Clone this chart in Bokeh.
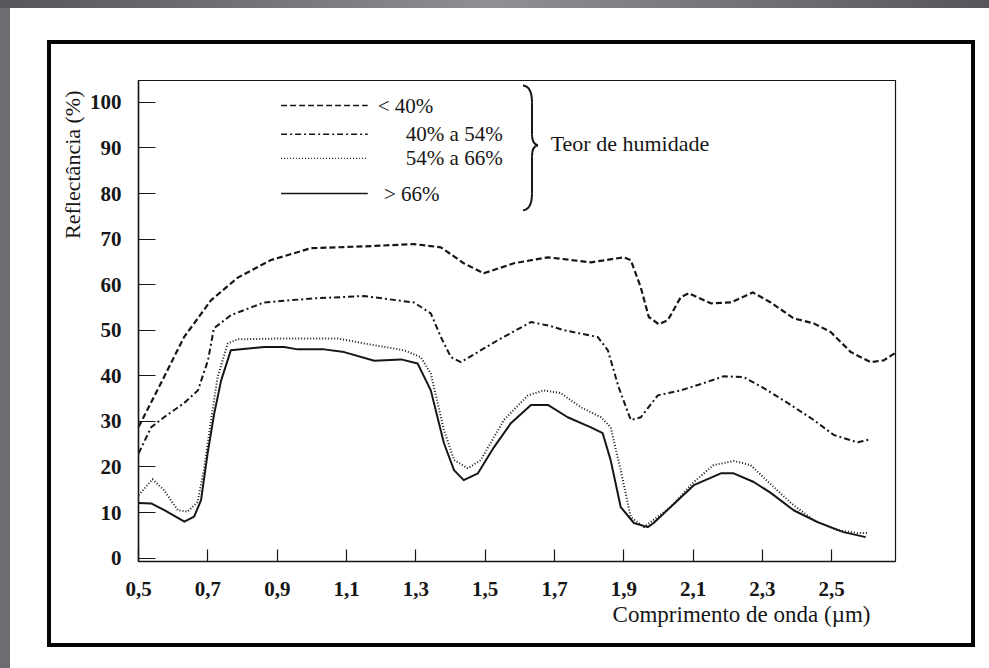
import math
from bokeh.plotting import figure
from bokeh.models import FixedTicker, Label, Range1d, CustomJSTickFormatter, Title
from bokeh.embed import file_html
from bokeh.resources import INLINE

# ---------------- data ----------------
wl_lt40 = [0.50, 0.573, 0.631, 0.709, 0.787, 0.882, 0.997, 1.150, 1.294, 1.372,
           1.438, 1.496, 1.583, 1.681, 1.805, 1.900, 1.920, 1.949, 1.972, 2.001,
           2.027, 2.064, 2.087, 2.151, 2.209, 2.272, 2.324, 2.390, 2.448, 2.497,
           2.555, 2.612, 2.650, 2.683]
refl_lt40 = [28.8, 39.7, 48.5, 56.6, 61.6, 65.4, 68.0, 68.4, 68.9, 68.2,
             64.7, 62.5, 64.7, 66.0, 64.9, 66.0, 65.4, 59.4, 52.9, 51.3,
             52.2, 57.2, 58.1, 55.9, 56.1, 58.3, 56.1, 52.6, 51.5, 49.6,
             45.2, 43.0, 43.4, 45.0]

wl_40_54 = [0.50, 0.536, 0.573, 0.631, 0.671, 0.700, 0.717, 0.766, 0.862, 1.006,
            1.150, 1.294, 1.343, 1.372, 1.401, 1.430, 1.536, 1.632, 1.689, 1.727,
            1.825, 1.854, 1.885, 1.920, 1.949, 1.998, 2.064, 2.131, 2.188, 2.246,
            2.304, 2.382, 2.448, 2.506, 2.575, 2.612]
refl_40_54 = [23.0, 28.7, 30.9, 34.0, 36.8, 43.4, 50.4, 53.3, 56.1, 57.0,
              57.5, 56.1, 53.7, 48.5, 44.1, 43.0, 47.8, 51.8, 50.9, 50.0,
              48.5, 45.6, 37.5, 30.3, 30.9, 35.7, 36.8, 38.4, 39.9, 39.7,
              37.3, 33.6, 30.3, 27.0, 25.4, 26.1]

wl_54_66 = [0.50, 0.540, 0.573, 0.613, 0.641, 0.670, 0.688, 0.709, 0.728, 0.757,
            0.786, 0.911, 1.074, 1.151, 1.266, 1.314, 1.343, 1.352, 1.381, 1.410,
            1.450, 1.487, 1.554, 1.623, 1.669, 1.718, 1.776, 1.834, 1.862, 1.891,
            1.920, 1.958, 2.035, 2.102, 2.159, 2.217, 2.266, 2.324, 2.382, 2.448,
            2.517, 2.575, 2.607]
refl_54_66 = [13.8, 17.3, 14.9, 10.5, 10.2, 12.3, 19.3, 30.3, 39.8, 47.1,
              48.0, 48.2, 48.2, 47.1, 45.6, 44.1, 40.5, 37.5, 28.1, 21.5,
              19.7, 21.5, 30.3, 35.7, 36.8, 36.2, 33.1, 30.9, 28.7, 19.3,
              9.0, 6.8, 11.2, 16.7, 20.4, 21.3, 20.4, 16.2, 12.1, 8.3,
              6.1, 5.5, 5.5]

wl_gt66 = [0.50, 0.536, 0.574, 0.632, 0.660, 0.680, 0.699, 0.718, 0.738, 0.766,
           0.862, 0.920, 0.959, 1.035, 1.093, 1.180, 1.257, 1.305, 1.343, 1.381,
           1.410, 1.438, 1.479, 1.525, 1.574, 1.632, 1.681, 1.738, 1.805, 1.839,
           1.862, 1.891, 1.929, 1.969, 1.986, 2.035, 2.102, 2.180, 2.217, 2.275,
           2.324, 2.390, 2.459, 2.534, 2.598]
refl_gt66 = [12.1, 12.0, 10.5, 8.0, 9.1, 12.7, 23.0, 31.7, 39.0, 45.6,
             46.3, 46.3, 45.8, 45.8, 45.2, 43.3, 43.6, 42.7, 36.8, 25.2,
             19.3, 17.1, 18.6, 24.3, 29.6, 33.6, 33.6, 30.9, 28.7, 27.4,
             21.5, 11.2, 7.7, 6.8, 7.7, 11.2, 16.0, 18.6, 18.6, 16.7,
             14.3, 10.5, 7.9, 5.7, 4.6]

series_labels = ["< 40%", "40% a 54%", "54% a 66%", "> 66%"]
group_label = "Teor de humidade"
x_ticks = [0.5, 0.7, 0.9, 1.1, 1.3, 1.5, 1.7, 1.9, 2.1, 2.3, 2.5]
y_ticks = [0, 10, 20, 30, 40, 50, 60, 70, 80, 90, 100]
x_title = "Comprimento de onda (µm)"
y_title = "Reflectância (%)"

# ---------------- styling ----------------
INK = "#161616"
SERIF = "Liberation Serif"
styles = [
    dict(line_dash="6 3", line_width=2.2),
    dict(line_dash="6 3 2 3", line_width=2.0),
    dict(line_dash="1 2", line_width=2.0),
    dict(line_dash="solid", line_width=2.0),
]

# the figure sits inside the black frame of the scanned page
W, H = 920, 599
p = figure(width=W, height=H, output_backend="svg", toolbar_location=None,
           x_range=Range1d(0.4995, 2.684), y_range=Range1d(-0.75, 104.8),
           min_border_left=87, min_border_top=36, min_border_right=76,
           min_border_bottom=82,
           styles={"margin-left": "51px", "margin-top": "44px",
                   "outline": "4px solid #050505"})
p.background_fill_color = "white"
p.border_fill_color = "white"
p.outline_line_color = INK
p.outline_line_width = 1.2
p.xgrid.visible = False
p.ygrid.visible = False

series = [(wl_lt40, refl_lt40), (wl_40_54, refl_40_54),
          (wl_54_66, refl_54_66), (wl_gt66, refl_gt66)]
for (xs, ys), st in zip(series, styles):
    p.line(xs, ys, line_color=INK, line_join="round", **st)

# axes
for ax in (p.xaxis[0], p.yaxis[0]):
    ax.axis_line_color = INK
    ax.axis_line_width = 1.5
    ax.major_tick_line_color = INK
    ax.major_tick_line_width = 1.2
    ax.major_tick_out = 0
    ax.minor_tick_line_color = None
    ax.major_label_text_font = SERIF
    ax.major_label_text_font_style = "bold"
    ax.major_label_text_color = INK
    ax.major_label_text_font_size = "21px"

p.xaxis.ticker = FixedTicker(ticks=x_ticks)
p.xaxis.formatter = CustomJSTickFormatter(code="return tick.toFixed(1).replace('.', ',');")
p.xaxis.major_tick_in = 12
p.xaxis.major_label_standoff = 20

p.yaxis.ticker = FixedTicker(ticks=y_ticks)
p.yaxis.major_tick_in = 17
p.yaxis.major_label_standoff = 17

# axis titles as side titles (top-aligned on the left, right-aligned below)
p.add_layout(Title(text=y_title, align="right", offset=10, standoff=4,
                   text_font=SERIF, text_font_size="22px",
                   text_font_style="normal", text_color=INK), "left")
p.add_layout(Title(text=x_title, align="right", offset=25, standoff=2,
                   text_font=SERIF, text_font_size="23px",
                   text_font_style="normal", text_color=INK), "below")

# legend (hand-drawn like the original)
leg_y = [99.3, 93.0, 87.7, 80.0]
leg_text_x = [1.190, 1.271, 1.271, 1.208]
for yy, tx, st, lab in zip(leg_y, leg_text_x, styles, series_labels):
    p.line([0.911, 1.161], [yy, yy], line_color=INK,
           line_dash=st["line_dash"], line_width=st["line_width"] * 0.65)
    p.add_layout(Label(x=tx, y=yy, text=lab, text_align="left",
                       text_baseline="middle", text_font=SERIF,
                       text_font_size="21px", text_color=INK))

# brace
bx0, bx1, bx2 = 1.609, 1.635, 1.652
p.quadratic(x0=[bx0, bx1, bx2, bx1], y0=[103.7, 93.0, 90.6, 80.0],
            x1=[bx1, bx2, bx1, bx0], y1=[100.0, 90.6, 88.2, 76.3],
            cx=[bx1, bx1, bx1, bx1], cy=[103.5, 90.8, 90.4, 76.5],
            line_color=INK, line_width=2.0)
p.segment(x0=[bx1, bx1], y0=[100.0, 88.2], x1=[bx1, bx1], y1=[93.0, 80.0],
          line_color=INK, line_width=2.0)
p.add_layout(Label(x=1.689, y=91.0, text=group_label, text_align="left",
                   text_baseline="middle", text_font=SERIF,
                   text_font_size="22px", text_color=INK))

html = file_html(p, INLINE, title="Reflectância")
page_bg = ("background:"
           "linear-gradient(90deg,#55555b,#8f8f96 50%,#55555b) 0 0/100% 8px no-repeat,"
           "linear-gradient(#6c6c72,#6c6c72) 0 0/10px 100% no-repeat,"
           "#ffffff;")
i = html.rfind("<body")
if i >= 0:
    html = html[:i] + '<body style="' + page_bg + '"' + html[i + 5:]
open("out.html", "w").write(html)
